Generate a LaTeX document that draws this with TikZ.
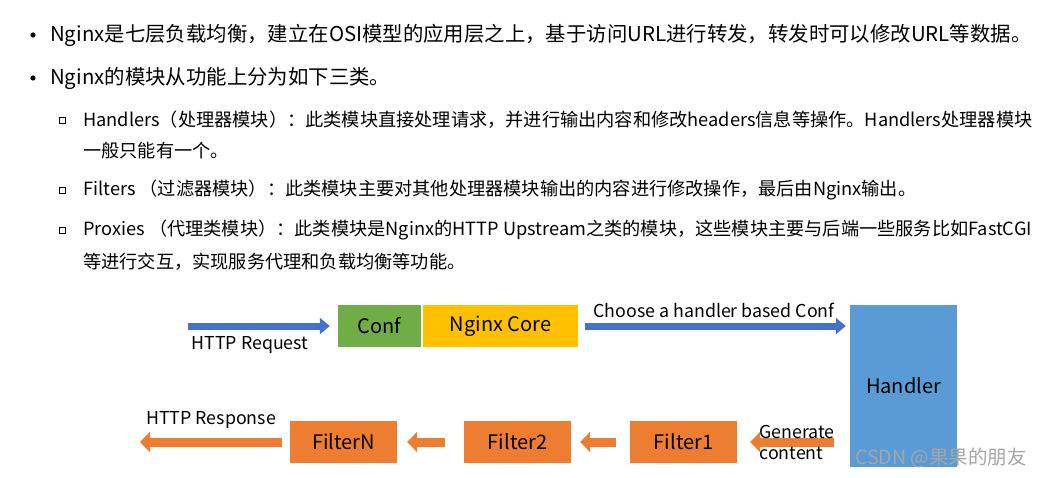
\documentclass[tikz,border=0pt]{standalone}
\usepackage{fontspec}
\setmainfont{Noto Sans CJK SC}
\usetikzlibrary{arrows.meta,positioning}
\definecolor{confgreen}{HTML}{70AD47}
\definecolor{coreyellow}{HTML}{FFC000}
\definecolor{handblue}{HTML}{5B9BD5}
\definecolor{arrblue}{HTML}{4472C4}
\definecolor{filtorange}{HTML}{ED7D31}
\tikzset{
  txt/.style={anchor=west,inner sep=0pt,font=\fontsize{20.4}{22}\selectfont},
  box/.style={minimum height=42pt,inner sep=0pt,font=\fontsize{20}{22}\selectfont},
  fbox/.style={box,fill=filtorange,minimum width=107pt},
  lbl/.style={inner sep=0pt,font=\fontsize{17.8}{21}\selectfont},
  bluearr/.style={arrblue,line width=7pt,-{Triangle[length=10pt,width=16pt]}},
  orgarr/.style={filtorange,line width=9pt,-{Triangle[length=10pt,width=20pt]}},
}
\begin{document}
\begin{tikzpicture}[x=1pt,y=-1pt]
  \useasboundingbox[fill=white] (0,0) rectangle (1043,478);
  % text
  \foreach \y in {35,78} \fill (33,\y) circle (2.6pt);
  \node[txt] (b1) at (50,35) {Nginx是七层负载均衡，建立在OSI模型的应用层之上，基于访问URL进行转发，转发时可以修改URL等数据。};
  \node[txt] (b2) at (50,78) {Nginx的模块从功能上分为如下三类。};
  \foreach \y in {120,190,230} \draw[line width=0.8pt] (59,\y-3) rectangle (65,\y+3);
  \begin{scope}[txt/.append style={font=\fontsize{18.2}{20}\selectfont}]
    \node[txt] (s1) at (83,120) {Handlers（处理器模块）：此类模块直接处理请求，并进行输出内容和修改headers信息等操作。Handlers处理器模块};
    \node[txt] (s1b) at (83,151) {一般只能有一个。};
    \node[txt] (s2) at (83,190) {Filters （过滤器模块）：此类模块主要对其他处理器模块输出的内容进行修改操作，最后由Nginx输出。};
    \node[txt] (s3) at (83,230) {Proxies （代理类模块）：此类模块是Nginx的HTTP Upstream之类的模块，这些模块主要与后端一些服务比如FastCGI};
    \node[txt] (s3b) at (83,262) {等进行交互，实现服务代理和负载均衡等功能。};
  \end{scope}
  % diagram
  \node[box,fill=confgreen,minimum width=83pt] (conf) at (379.5,326) {Conf};
  \node[box,fill=coreyellow,minimum width=155pt] (core) at (500.5,326) {Nginx Core};
  \node[box,fill=handblue,minimum width=107pt,minimum height=162pt] (handler) at (903.5,386) {Handler};
  \node[fbox] (filter1) at (683.5,442) {Filter1};
  \node[fbox] (filter2) at (517.5,442) {Filter2};
  \node[fbox] (filterN) at (343.5,442) {FilterN};
  \coordinate (req) at (188,326);
  \coordinate (resp) at (140,442);
  \draw[bluearr] (req) -- ([xshift=-8pt]conf.west);
  \draw[bluearr] ([xshift=7pt]core.east) -- ([xshift=-4pt]core.east -| handler.west);
  \draw[orgarr] ([xshift=-16pt]handler.west |- filter1) -- ([xshift=13pt]filter1.east);
  \draw[orgarr] ([xshift=-14pt]filter1.west) -- ([xshift=9pt]filter2.east);
  \draw[orgarr] ([xshift=-19pt]filter2.west) -- ([xshift=10pt]filterN.east);
  \draw[orgarr] ([xshift=-8pt]filterN.west) -- (resp);
  \node[lbl] (reqlbl) at (250,345) {HTTP Request};
  \node[lbl] (chlbl) at (714,310) {Choose a handler based Conf};
  \node[lbl,align=left] (genlbl) at (797,442) {Generate\\content};
  \node[lbl] (resplbl) at (211,420) {HTTP Response};
  \node[lbl,text=gray!70,anchor=west,font=\fontsize{19.5}{20}\selectfont] (mark) at (855,458) {CSDN @果果的朋友};
\end{tikzpicture}
\end{document}
